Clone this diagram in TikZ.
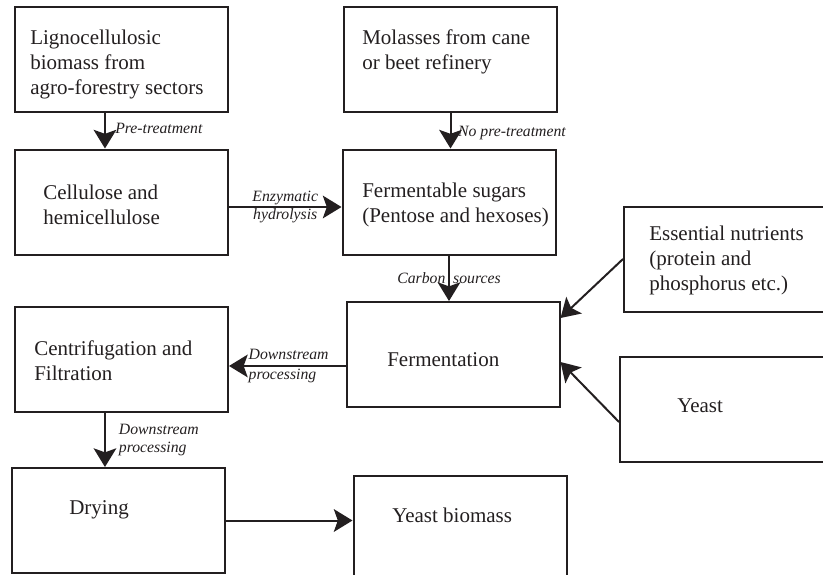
\documentclass[tikz,border=0pt]{standalone}
\usepackage{fontspec}
\setmainfont{Liberation Serif}
\usepackage{tikz}
\usetikzlibrary{arrows.meta,calc,positioning}
\definecolor{InkBlack}{HTML}{231F20}

\begin{document}
\begin{tikzpicture}[x=0.75pt, y=-0.75pt, InkBlack,
    font=\fontsize{15.75}{18.75}\selectfont,
    box/.style={draw, line width=1.5pt, minimum width=159.75pt, minimum height=78.75pt, inner sep=0pt},
    txt/.style={anchor=west, align=left, inner sep=0pt},
    lbl/.style={font=\fontsize{11.8}{13.5}\selectfont\itshape, inner sep=0pt, align=left},
    flow/.style={-{Stealth[length=14pt, width=17pt, inset=3pt]}, line width=1.5pt}]
  \useasboundingbox (0,0) rectangle (823,574);

  \foreach \name/\cx/\cy/\tx/\ty/\txt in {
    lig/121.5/59.5/30/64/{Lignocellulosic\\biomass from\\agro-forestry sectors},
    cel/121.5/202/43/205/{Cellulose and\\hemicellulose},
    mol/450.5/59.5/362/51.5/{Molasses from cane\\or beet refinery},
    sug/449/202/362/205/{Fermentable sugars\\(Pentose and hexoses)},
    nut/730.5/259/649/260/{Essential nutrients\\(protein and\\phosphorus etc.)},
    fer/453/354.5/387/360/{Fermentation},
    yst/726.5/409.5/677/406/{Yeast},
    cen/121.5/359.5/34/360.5/{Centrifugation and\\Filtration},
    dry/118/520.5/69/510/{Drying},
    bio/460/528/392/515/{Yeast biomass}
  } {
    \node[box] (\name) at (\cx,\cy) {};
    \node[txt] (\name-txt) at (\tx,\ty) {\txt};
  }

  \draw[flow] ([xshift=-12.4pt]lig.south) -- ([xshift=-12.4pt]cel.north)
    node[lbl, pos=.43, right=7pt] (pre) {Pre-treatment};
  \draw[flow] (mol.south) -- (mol.south |- sug.north)
    node[lbl, pos=.57, right=5pt] (nopre) {No pre-treatment};
  \draw[flow] ([yshift=-3.75pt]cel.east) -- ([yshift=-3.75pt]sug.west)
    node[lbl, pos=.5, align=center] (enz) {Enzymatic\\hydrolysis};
  \draw[flow] (sug.south) -- (sug.south |- fer.north)
    node[lbl, pos=.5] (carb) {Carbon\enspace sources};
  \draw[flow] (nut.west) -- ($(fer.east)+(0,-36.5)$);
  \draw[flow] ($(yst.west)+(0,12.5)$) -- ($(fer.east)+(0,7.5)$);
  \draw[flow] ([yshift=-8.6pt]fer.west) -- ([yshift=-8.6pt]fer.west -| cen.east)
    node[lbl, pos=.5, xshift=1pt, font=\fontsize{11.8}{15}\selectfont\itshape] (down1) {Downstream\\processing};
  \draw[flow] ([xshift=-12.4pt]cen.south) -- ([xshift=-12.4pt]cen.south |- dry.north)
    node[lbl, pos=.5, right=9.75pt] (down2) {Downstream\\processing};
  \draw[flow] (dry.east) -- (dry.east -| bio.west);
\end{tikzpicture}
\end{document}
